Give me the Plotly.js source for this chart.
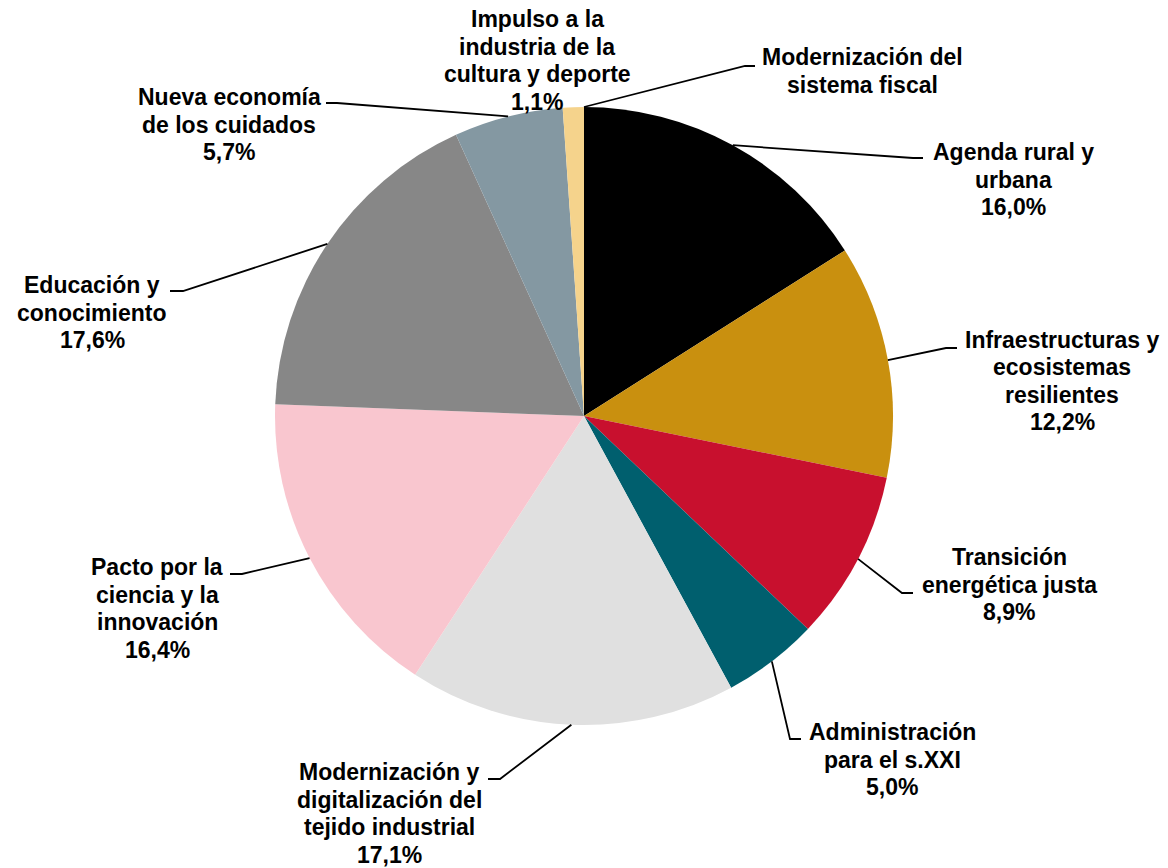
<!DOCTYPE html>
<html>
<head>
<meta charset="utf-8">
<script src="https://cdn.plot.ly/plotly-3.0.1.min.js"></script>
<style>
  html, body { margin: 0; padding: 0; background: #fff; }
  #plotArea { width: 1168px; height: 868px; }
</style>
</head>
<body>
<div id="plotArea"></div>
<script>
// data (share of total, %)
var categories = [
  'Agenda rural y<br>urbana',
  'Infraestructuras y<br>ecosistemas<br>resilientes',
  'Transición<br>energética justa',
  'Administración<br>para el s.XXI',
  'Modernización y<br>digitalización del<br>tejido industrial',
  'Pacto por la<br>ciencia y la<br>innovación',
  'Educación y<br>conocimiento',
  'Nueva economía<br>de los cuidados',
  'Impulso a la<br>industria de la<br>cultura y deporte',
  'Modernización del<br>sistema fiscal'
];
var shares = [16.0, 12.2, 8.9, 5.0, 17.1, 16.4, 17.6, 5.7, 1.1, 0];
var colors = ['#000000', '#C9900F', '#C8102E', '#005F6E', '#E0E0E0',
              '#F9C6CF', '#878787', '#8498A2', '#F5D38C', '#FFFFFF'];

// label placement (pixels): centre x, first text line y, leader elbow and end
var labelX    = [1013, 1062, 1009, 892, 389, 157, 92, 229, 537, 862];
var labelTopY = [152, 340, 557, 732, 772, 567, 285, 97, 19, 57];
var elbows    = [[913,158],[946,348],[902,593],[790,739],[500,779],[242,574],[183,291],[337,103],null,[745,66]];
var ends      = [[923,158],[957,348],[913,593],[801,739],[488,779],[230,574],[170,291],[326,103],null,[755,66]];

var W = 1168, H = 868;
var cx = 584, cy = 416, R = 309;
var lineGap = 27.5;

function px(x) { return x / W; }
function py(y) { return 1 - y / H; }

var trace = {
  type: 'pie',
  labels: categories.map(function (c) { return c.replace(/<br>/g, ' '); }),
  values: shares,
  sort: false,
  direction: 'clockwise',
  rotation: 0,
  textinfo: 'none',
  hoverinfo: 'label+percent',
  marker: {colors: colors, line: {width: 0}},
  domain: {x: [px(cx - R), px(cx + R)], y: [py(cy + R), py(cy - R)]},
  showlegend: false
};

var annotations = [];
var shapes = [];
var total = shares.reduce(function (a, b) { return a + b; }, 0);
var cum = 0;

shares.forEach(function (v, i) {
  var mid = (cum + v / 2) / total * 2 * Math.PI;
  cum += v;
  var lines = categories[i].split('<br>');
  if (v > 0) lines.push(v.toFixed(1).replace('.', ',') + '%');
  lines.forEach(function (t, k) {
    annotations.push({
      x: px(labelX[i]), y: py(labelTopY[i] + k * lineGap),
      xref: 'paper', yref: 'paper',
      xanchor: 'center', yanchor: 'middle',
      text: '<b>' + t + '</b>', showarrow: false,
      font: {family: 'Liberation Sans, Arial, sans-serif', size: 23, color: '#000'}
    });
  });
  if (elbows[i]) {
    var sx = cx + R * Math.sin(mid), sy = cy - R * Math.cos(mid);
    shapes.push({
      type: 'path', xref: 'paper', yref: 'paper',
      path: 'M ' + px(sx) + ',' + py(sy) +
            ' L ' + px(elbows[i][0]) + ',' + py(elbows[i][1]) +
            ' L ' + px(ends[i][0]) + ',' + py(ends[i][1]),
      line: {color: '#000', width: 1.8}
    });
  }
});

var layout = {
  width: W, height: H,
  margin: {l: 0, r: 0, t: 0, b: 0},
  paper_bgcolor: '#fff',
  annotations: annotations,
  shapes: shapes
};

Plotly.newPlot('plotArea', [trace], layout, {displayModeBar: false, staticPlot: true});
</script>
</body>
</html>
